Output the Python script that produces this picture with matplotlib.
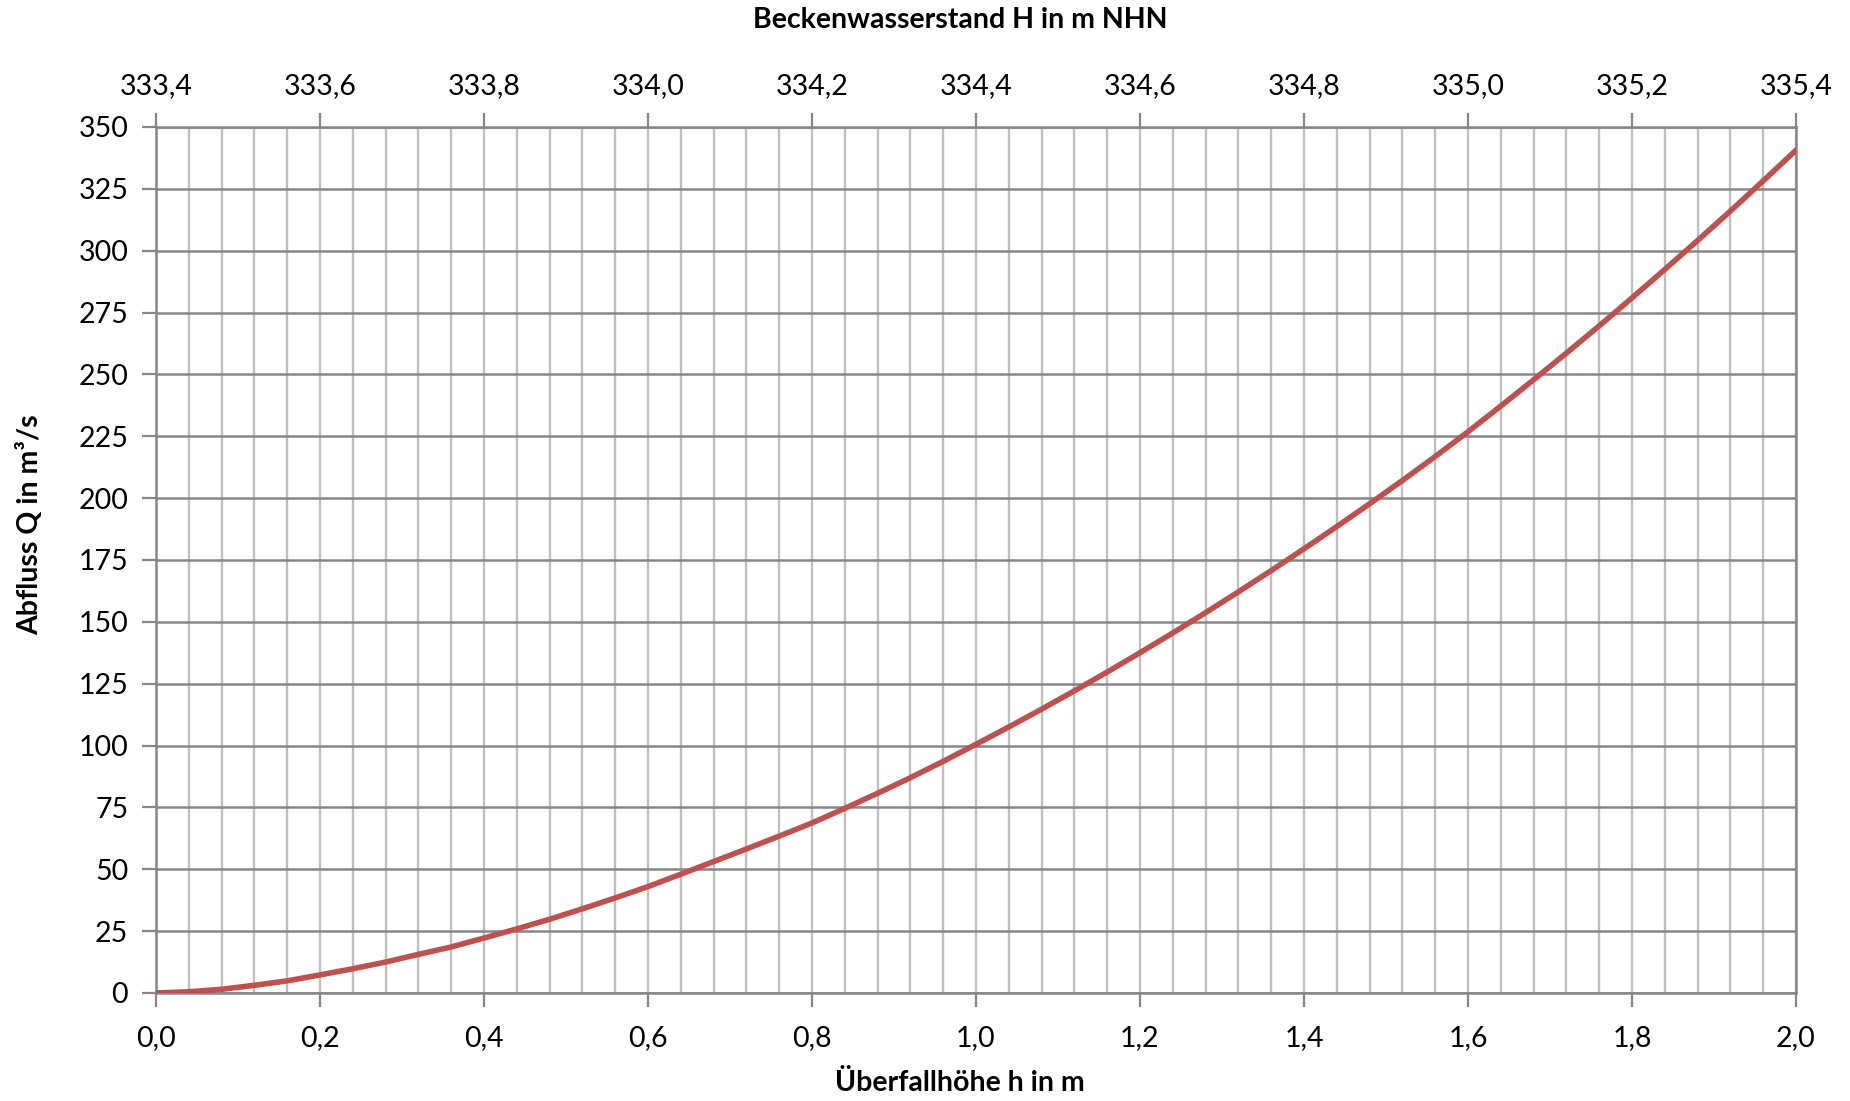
import matplotlib.pyplot as plt
import matplotlib as mpl
from matplotlib.ticker import MultipleLocator, FuncFormatter

mpl.rcParams['font.family'] = ['Lato', 'DejaVu Sans']

# Überfallhöhe h in m (Stützstellen alle 0,04 m)
h = [0.00, 0.04, 0.08, 0.12, 0.16, 0.20, 0.24, 0.28, 0.32, 0.36,
     0.40, 0.44, 0.48, 0.52, 0.56, 0.60, 0.64, 0.68, 0.72, 0.76,
     0.80, 0.84, 0.88, 0.92, 0.96, 1.00, 1.04, 1.08, 1.12, 1.16,
     1.20, 1.24, 1.28, 1.32, 1.36, 1.40, 1.44, 1.48, 1.52, 1.56,
     1.60, 1.64, 1.68, 1.72, 1.76, 1.80, 1.84, 1.88, 1.92, 1.96, 2.00]
# Abfluss Q in m³/s
Q = [0.0, 0.5, 1.5, 3.1, 4.9, 7.3, 9.8, 12.5, 15.6, 18.6,
     22.2, 25.9, 29.8, 34.0, 38.4, 43.0, 48.0, 53.1, 58.2, 63.4,
     68.7, 74.6, 80.7, 87.0, 93.6, 100.5, 107.5, 114.7, 122.1, 129.7,
     137.5, 145.5, 153.7, 162.1, 170.7, 179.5, 188.5, 197.7, 207.1, 216.8,
     226.8, 237.2, 247.8, 258.6, 269.6, 280.9, 292.4, 304.1, 316.0, 328.2, 340.6]
# Beckenwasserstand = Wehrkrone + h
H_krone = 333.4

major_col = '#868686'
minor_col = '#bfbfbf'
fs = 20.5
fs_lab = 20.5

fig = plt.figure(figsize=(18.5, 11.01), dpi=100)
ax = fig.add_axes([0.0843, 0.0981, 0.9708 - 0.0843, 0.8847 - 0.0981])

ax.plot(h, Q, color='#c0504d', lw=4.0, solid_capstyle='round', zorder=5)

ax.set_xlim(0, 2.0)
ax.set_ylim(0, 350)
ax.xaxis.set_major_locator(MultipleLocator(0.2))
ax.xaxis.set_minor_locator(MultipleLocator(0.04))
ax.yaxis.set_major_locator(MultipleLocator(25))

komma = lambda fmt: FuncFormatter(lambda v, p: (fmt % v).replace('.', ','))
ax.xaxis.set_major_formatter(komma('%.1f'))
ax.yaxis.set_major_formatter(komma('%.0f'))

# alle senkrechten Linien hellgrau, waagrechte dunkler
ax.grid(which='both', axis='x', color=minor_col, lw=1.7)
ax.grid(which='major', axis='y', color=major_col, lw=1.8)
ax.set_axisbelow(True)

for s in ax.spines.values():
    s.set_color(major_col)
    s.set_linewidth(1.8)

ax.tick_params(which='major', direction='out', length=10, width=1.6, color=major_col,
               labelsize=fs, pad=10)
ax.tick_params(which='minor', length=0)
ax.tick_params(axis='x', pad=13)

# obere Achse: Beckenwasserstand
ax2 = ax.twiny()
ax2.set_xlim(H_krone, H_krone + 2.0)
ax2.xaxis.set_major_locator(MultipleLocator(0.2))
ax2.xaxis.set_major_formatter(komma('%.1f'))
ax2.tick_params(direction='out', length=10, width=1.6, color=major_col, labelsize=fs, pad=10)
for s in ax2.spines.values():
    s.set_visible(False)

fig.text(0.519, 0.982, 'Beckenwasserstand H in m NHN', ha='center', va='center',
         fontsize=fs_lab, fontweight='bold')
fig.text(0.519, 0.0163, 'Überfallhöhe h in m', ha='center', va='center',
         fontsize=fs_lab, fontweight='bold')
fig.text(0.016, 0.523, 'Abfluss Q in m³/s', ha='center', va='center', rotation=90,
         fontsize=fs_lab, fontweight='bold')

fig.savefig('out.png', dpi=100)
